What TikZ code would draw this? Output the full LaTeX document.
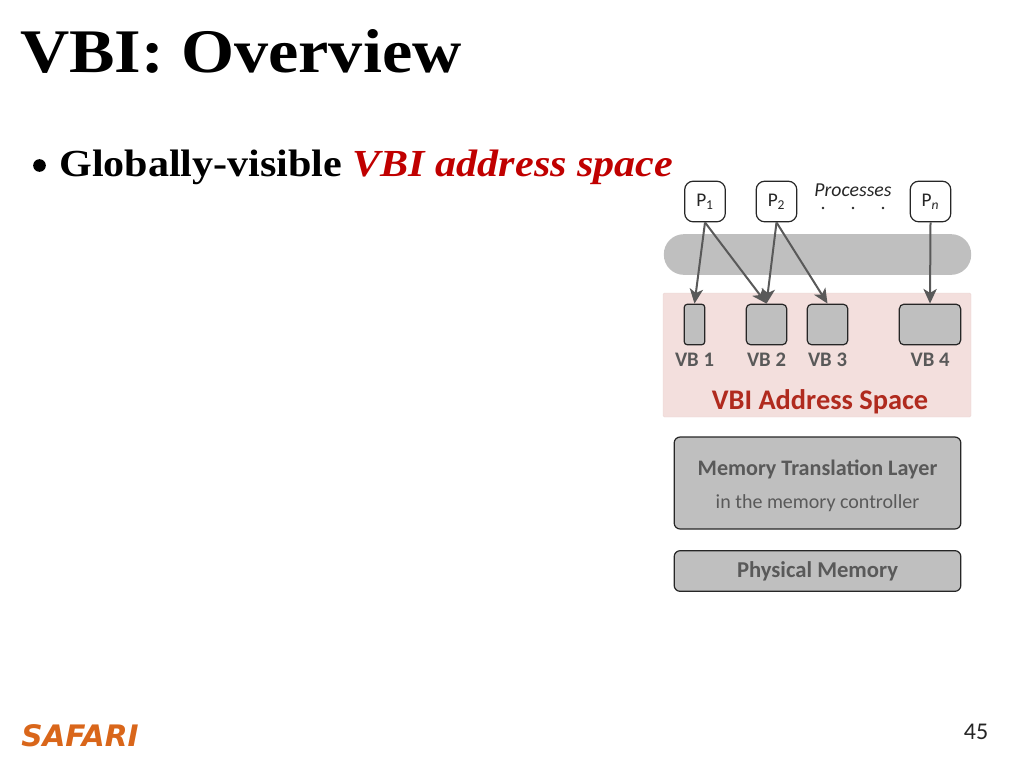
\documentclass[tikz,border=0pt]{standalone}
\usepackage{amsmath, amssymb, amsthm}
\usepackage{fontspec}
\setmainfont{Carlito}
\newfontfamily\titlefont[FakeStretch=1.1]{Liberation Serif}
\newfontfamily\logofont{DejaVu Sans}
\usetikzlibrary{arrows.meta}
\definecolor{vbgray}{HTML}{BFBFBF}
\definecolor{vbtext}{HTML}{595959}
\definecolor{vbline}{HTML}{262626}
\definecolor{vbarrow}{HTML}{595959}
\definecolor{vbpink}{HTML}{F3DFDD}
\definecolor{vbred}{HTML}{B02A1E}
\definecolor{keyred}{HTML}{C00000}
\definecolor{safari}{HTML}{D9661A}
\tikzset{
  procbox/.style={draw=vbline,fill=white,rounded corners=6.5pt,line width=0.9pt,inner sep=0pt,minimum width=30.5pt,minimum height=30.5pt,text=vbline,font=\fontsize{14.5}{17}\selectfont},
  vbbox/.style={draw=vbline,fill=vbgray,rounded corners=3.5pt,line width=0.9pt,inner sep=0pt,minimum height=30.5pt},
  layerbox/.style={draw=vbline,fill=vbgray,rounded corners=4.5pt,line width=0.9pt,inner sep=0pt,minimum width=215pt},
  vblabel/.style={inner sep=0pt,text=vbtext,font=\fontsize{15.5}{18}\selectfont\bfseries},
  maparrow/.style={draw=vbarrow,line width=1.5pt,-{Stealth[length=11pt,width=10pt,inset=3pt]}}
}
\begin{document}
\begin{tikzpicture}[x=0.75pt,y=0.75pt,yscale=-1,xscale=1]
\useasboundingbox (0,0) rectangle (1024,768);

% Title and bullet
\node (title) [anchor=base west,inner sep=0pt,font=\fontsize{46.5}{56}\selectfont\titlefont\bfseries] at (20,72) {VBI: Overview};
\node (bullet) [inner sep=0pt,circle,fill=black,minimum size=9.5pt] at (39.5,165.5) {};
\node (headline) [anchor=base west,inner sep=0pt,font=\fontsize{28.7}{34}\selectfont\titlefont\bfseries] at (59,176) {Globally-visible \textcolor{keyred}{\itshape VBI address space}};

% Shared bar and address space
\node (bar) [fill=vbgray,rounded corners=15pt,inner sep=0pt,minimum width=230.5pt,minimum height=30.5pt] at (817.5,254.5) {};
\node (space) [fill=vbpink,draw=vbpink!95!black,line width=0.3pt,rounded corners=1pt,inner sep=0pt,minimum width=231pt,minimum height=93pt] at (817,355) {};

% Processes
\node (pone) [procbox] at (705,201.5) {P\textsubscript{1}};
\node (ptwo) [procbox] at (776.5,201.5) {P\textsubscript{2}};
\node (pn) [procbox] at (930.5,201.5) {P\textsubscript{\itshape n}};
\node (proclabel) [inner sep=0pt,text=vbline,font=\fontsize{14.8}{17}\selectfont\itshape] at (853,190) {Processes};
\node (dotone) [inner sep=0pt,circle,fill=vbline,minimum size=2.2pt] at (823,208) {};
\node (dottwo) [inner sep=0pt,circle,fill=vbline,minimum size=2.2pt] at (853,208) {};
\node (dotthree) [inner sep=0pt,circle,fill=vbline,minimum size=2.2pt] at (883,208) {};

% Virtual blocks
\node (vbone) [vbbox,minimum width=15.5pt,rounded corners=2.5pt] at (694.5,324.5) {};
\node (vbtwo) [vbbox,minimum width=30.5pt] at (766.5,324.5) {};
\node (vbthree) [vbbox,minimum width=30.5pt] at (827.5,324.5) {};
\node (vbfour) [vbbox,minimum width=46pt] at (930,324.5) {};
\node (vbonelabel) [vblabel] at (694.5,360) {VB 1};
\node (vbtwolabel) [vblabel] at (766.5,360) {VB 2};
\node (vbthreelabel) [vblabel] at (827.5,360) {VB 3};
\node (vbfourlabel) [vblabel] at (930,360) {VB 4};
\node (spacelabel) [inner sep=0pt,text=vbred,font=\fontsize{21.3}{25}\selectfont\bfseries] at (820,402) {VBI Address Space};

% Mappings
\draw [maparrow] (pone.south) -- (vbone.north);
\draw [maparrow] (pone.south) -- (vbtwo.north);
\draw [maparrow] (ptwo.south) -- (vbtwo.north);
\draw [maparrow] (ptwo.south) -- (vbthree.north);
\draw [maparrow] (pn.south) -- (vbfour.north);

% Lower layers
\node (mtl) [layerbox,minimum height=69pt] at (817.5,483) {};
\node (mtllabel) [inner sep=0pt,text=vbtext,font=\fontsize{16.6}{19}\selectfont\bfseries] at (817.5,469) {Memory Translation Layer};
\node (mtlsub) [inner sep=0pt,text=vbtext,font=\fontsize{15}{18}\selectfont] at (817.5,503) {in the memory controller};
\node (phys) [layerbox,minimum height=30.5pt,text=vbtext,font=\fontsize{17}{20}\selectfont\bfseries] at (817.5,571) {\raisebox{-1pt}{Physical Memory}};

% Footer
\node (logo) [anchor=west,inner sep=0pt,text=safari,font=\fontsize{22.2}{26}\selectfont\logofont\bfseries\itshape] at (21,736) {SAFARI};
\node (pagenum) [inner sep=0pt,text=vbline,font=\fontsize{18}{22}\selectfont] at (976,732) {45};
\end{tikzpicture}
\end{document}
